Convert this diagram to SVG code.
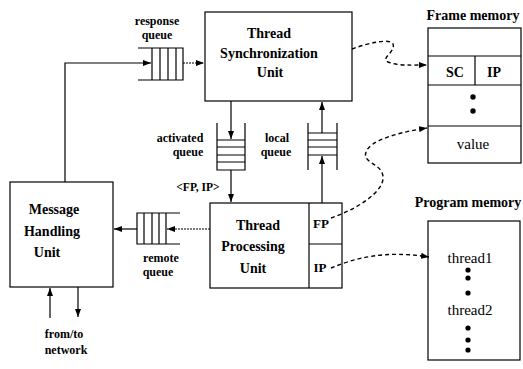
<svg xmlns="http://www.w3.org/2000/svg" width="523" height="369" viewBox="0 0 523 369">
<style>
.box{fill:none;stroke:#000;stroke-width:1.2}
.ln{fill:none;stroke:#000;stroke-width:1.2}
.dash{fill:none;stroke:#000;stroke-width:1.4;stroke-dasharray:4 3}
.fine{fill:none;stroke:#000;stroke-width:1.2;stroke-dasharray:2 1}
.b{font-family:"Liberation Serif",serif;font-weight:bold;fill:#000;text-anchor:middle}
.r{font-family:"Liberation Serif",serif;fill:#000;text-anchor:middle}
.u{font-size:14px}
.s{font-size:12px}
</style>
<defs>
<marker id="ah" markerWidth="8" markerHeight="6" refX="8" refY="3" orient="auto" markerUnits="userSpaceOnUse">
<path d="M0,0 L8,3 L0,6 Z" fill="#000"/>
</marker>
</defs>
<rect width="523" height="369" fill="#fff"/>

<g id="tsu">
<rect class="box" x="205" y="12" width="147" height="89"/>
<text class="b u" x="269" y="38">Thread</text>
<text class="b u" x="269" y="58">Synchronization</text>
<text class="b u" x="270" y="77">Unit</text>
</g>

<g id="tpu">
<rect class="box" x="210" y="203" width="132" height="85"/>
<line class="ln" x1="309" y1="203" x2="309" y2="288"/>
<line class="ln" x1="309" y1="244" x2="342" y2="244"/>
<text class="b u" x="258" y="230">Thread</text>
<text class="b u" x="253" y="251">Processing</text>
<text class="b u" x="253" y="273">Unit</text>
<text class="b" font-size="13" x="321" y="228">FP</text>
<text class="b" font-size="13" x="320" y="272">IP</text>
</g>

<g id="mhu">
<rect class="box" x="10" y="182" width="103" height="105"/>
<text class="b u" x="54" y="214">Message</text>
<text class="b u" x="52" y="236">Handling</text>
<text class="b u" x="47" y="257">Unit</text>
</g>

<g id="response-queue">
<path class="ln" d="M138,48 H183 V80 H138 M152,48 V80 M160,48 V80 M168,48 V80 M176,48 V80"/>
<text class="b s" x="157" y="25">response</text>
<text class="b s" x="157" y="39">queue</text>
</g>

<g id="activated-queue">
<path class="ln" d="M217,123 V170 H245 V123 M217,140 H245 M217,147 H245 M217,155 H245 M217,162 H245"/>
<text class="b s" x="180" y="142">activated</text>
<text class="b s" x="188" y="156">queue</text>
</g>

<g id="local-queue">
<path class="ln" d="M308,123 V170 M337,123 V170 M308,133 H337 M308,140 H337 M308,147 H337 M308,155 H337"/>
<text class="b s" x="277" y="142">local</text>
<text class="b s" x="276" y="156">queue</text>
</g>

<g id="remote-queue">
<path class="ln" d="M180,213 H137 V244 H180 M144,213 V244 M152,213 V244 M159,213 V244 M166,213 V244"/>
<text class="b s" x="161" y="262">remote</text>
<text class="b s" x="158" y="276">queue</text>
</g>

<g id="frame-memory">
<text class="b u" x="473" y="20">Frame memory</text>
<rect class="box" x="428" y="28" width="93" height="135"/>
<line class="ln" x1="428" y1="56" x2="521" y2="56"/>
<line class="ln" x1="428" y1="85" x2="521" y2="85"/>
<line class="ln" x1="428" y1="126" x2="521" y2="126"/>
<line class="ln" x1="475" y1="56" x2="475" y2="85"/>
<text class="b u" x="455" y="77">SC</text>
<text class="b u" x="494" y="77">IP</text>
<circle cx="473" cy="97" r="2.7"/>
<circle cx="473" cy="111" r="2.7"/>
<text class="r" font-size="15" x="473" y="149">value</text>
</g>

<g id="program-memory">
<text class="b u" x="468" y="207">Program memory</text>
<rect class="box" x="428" y="221" width="92" height="139"/>
<text class="r" font-size="15" x="470" y="263">thread1</text>
<circle cx="468" cy="270" r="2.6"/>
<circle cx="468" cy="278" r="2.6"/>
<circle cx="468" cy="293" r="2.6"/>
<text class="r" font-size="15" x="470" y="315">thread2</text>
<circle cx="468" cy="328" r="2.6"/>
<circle cx="468" cy="340" r="2.6"/>
<circle cx="468" cy="350" r="2.6"/>
</g>

<g id="network-label">
<text class="b s" x="64" y="338">from/to</text>
<text class="b s" x="66" y="354">network</text>
</g>

<g id="fpip-label">
<text class="b" font-size="11.5" x="198" y="191">&lt;FP, IP&gt;</text>
</g>

<g id="connectors">
<path class="ln" d="M65,182 V63 H151" marker-end="url(#ah)"/>
<path class="fine" d="M183,63 H204" marker-end="url(#ah)"/>
<path class="ln" d="M231,101 V139" marker-end="url(#ah)"/>
<path class="ln" d="M231,170 V202" marker-end="url(#ah)"/>
<path class="ln" d="M322,203 V156" marker-end="url(#ah)"/>
<path class="ln" d="M322,133 V102" marker-end="url(#ah)"/>
<path class="fine" d="M210,229 H167" marker-end="url(#ah)"/>
<path class="ln" d="M137,229 H114" marker-end="url(#ah)"/>
<path class="ln" d="M50,318 V288" marker-end="url(#ah)"/>
<path class="ln" d="M78,287 V317" marker-end="url(#ah)"/>
<path class="dash" d="M352,49 C368,43 390,38 393,44 C396,52 380,58 388,62 C398,66 412,65 427,65" marker-end="url(#ah)"/>
<path class="dash" d="M331,218 C355,210 385,192 383,176 C381,163 362,163 366,152 C370,140 400,132 427,128" marker-end="url(#ah)"/>
<path class="dash" d="M331,268 C355,258 385,250 429,257" marker-end="url(#ah)"/>
</g>
</svg>
